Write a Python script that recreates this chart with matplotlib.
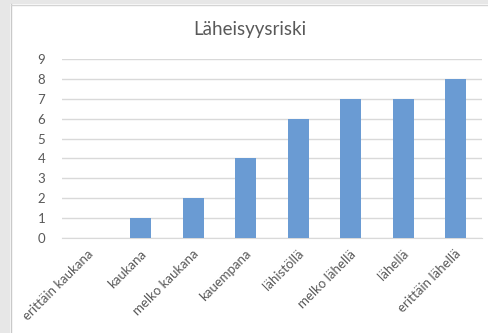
import numpy as np
import matplotlib.pyplot as plt
from matplotlib.patches import Rectangle
from matplotlib.transforms import ScaledTranslation

plt.rcParams['font.family'] = ['Lato', 'DejaVu Sans']

categories = ["erittäin kaukana", "kaukana", "melko kaukana", "kauempana",
              "lähistöllä", "melko lähellä", "lähellä", "erittäin lähellä"]
values = [0, 1, 2, 4, 6, 7, 7, 8]
yticks = list(range(0, 10))

W, H = 489, 333
fig = plt.figure(figsize=(W / 100, H / 100), dpi=100)
fig.patch.set_facecolor("white")

# grey window edges around the chart
fig.add_artist(Rectangle((0, 0), 10 / W, 1, transform=fig.transFigure,
                         facecolor="#e7e7e7", edgecolor="none"))
fig.add_artist(Rectangle((0, 1 - 4 / H), 1, 4 / H, transform=fig.transFigure,
                         facecolor="#e7e7e7", edgecolor="none"))
fig.add_artist(plt.Line2D([10.5 / W, 10.5 / W], [0, 1 - 4 / H], transform=fig.transFigure,
                          color="#c9c9c9", lw=1))
fig.add_artist(plt.Line2D([10.5 / W, 1], [1 - 4.5 / H, 1 - 4.5 / H], transform=fig.transFigure,
                          color="#d4d4d4", lw=1))

left, right = 62, 482
top, bottom = 59, 238
ax = fig.add_axes([left / W, 1 - bottom / H, (right - left) / W, (bottom - top) / H])

x = np.arange(len(categories))
ax.bar(x, values, width=0.4, color="#6a9bd3", zorder=3)

ax.set_xlim(-0.5, len(categories) - 0.5)
ax.set_ylim(0, 9)
ax.set_yticks(yticks)
ax.set_yticklabels([str(t) for t in yticks], fontsize=9.5, color="#595959")
ax.yaxis.grid(True, color="#d9d9d9", lw=1, zorder=0)
ax.tick_params(axis="y", length=0, pad=12)
ax.tick_params(axis="x", length=0, pad=7)
for s in ["left", "right", "top"]:
    ax.spines[s].set_visible(False)
ax.spines["bottom"].set_color("#d9d9d9")

ax.set_xticks(x)
ax.set_xticklabels(categories, rotation=45, ha="right", rotation_mode="anchor",
                   fontsize=9.5, color="#595959")
for lbl in ax.get_xticklabels():
    lbl.set_transform(lbl.get_transform() + ScaledTranslation(
        -1 / 100, 0, fig.dpi_scale_trans))

fig.text(250 / W, 1 - 30 / H, "Läheisyysriski", ha="center", va="center",
         fontsize=13.5, color="#595959")

fig.savefig("out.png", dpi=100)
